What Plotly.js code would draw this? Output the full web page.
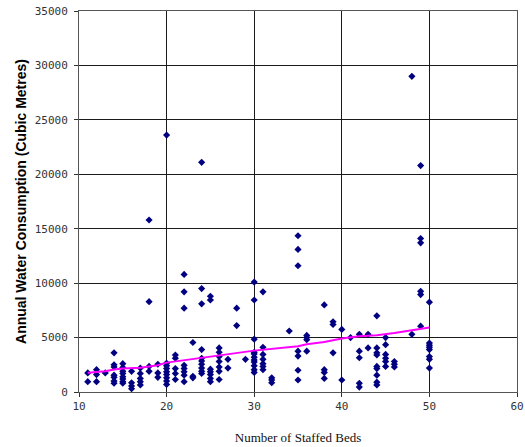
<!DOCTYPE html>
<html>
<head>
<meta charset="utf-8">
<script src="https://cdn.plot.ly/plotly-3.0.1.min.js"></script>
<style>
html,body{margin:0;padding:0;background:#fff;}
#chart{width:525px;height:447px;}
</style>
</head>
<body>
<div id="chart"></div>
<script>
// Number of staffed beds (x) and annual water consumption (y), grouped by bed count
const bedGroups = [11,12,13,14,15,16,17,18,19,20,21,22,23,24,25,26,27,28,29,30,31,32,34,35,36,38,39,40,41,42,43,44,45,46,48,49,50];
const waterByGroup = [
  [1750, 950],
  [2050, 1600, 950],
  [1750],
  [3600, 2500, 2300, 1550, 1350, 1000, 800],
  [2600, 2250, 1900, 1700, 1400, 1200, 950, 800],
  [1900, 850, 550, 300],
  [2200, 1700, 1250, 950, 650],
  [15800, 8300, 2350, 1900],
  [2550, 1750, 1350],
  [23600, 2650, 2400, 2150, 1850, 1600, 1300, 1000, 700],
  [3400, 3100, 2150, 1700, 1150],
  [10800, 9200, 7700, 2450, 2150, 1850, 1550, 950],
  [4550, 1450, 1300],
  [21100, 9500, 8100, 3900, 3100, 2850, 2550, 2200, 1900, 1700],
  [8800, 8450, 2100, 1850, 1600, 1250, 950],
  [4050, 3650, 3250, 2800, 2300, 1900, 1150],
  [3000, 2200],
  [7700, 6100],
  [3000],
  [10100, 8450, 4850, 3650, 3500, 3200, 2950, 2750, 2400, 2050, 1800],
  [9200, 4100, 3450, 3000, 2600, 2350, 2050],
  [1300, 1100, 850],
  [5600],
  [14350, 13100, 11600, 3750, 3300, 2000, 1100],
  [5200, 5000, 4800, 3750],
  [8000, 2050, 1800, 1250],
  [6450, 6200, 3600],
  [5750, 1100],
  [5000],
  [5300, 3750, 3150, 800, 450],
  [5300, 4050],
  [7000, 4050, 3600, 3400, 2350, 2150, 1550, 900, 650],
  [5000, 4350, 3450, 3100, 2800, 2350],
  [2800, 2550, 2300],
  [29000, 5300],
  [20800, 14100, 13700, 9250, 8950, 6050],
  [8250, 4500, 4300, 4100, 3900, 3250, 3000, 2200]
];

// Trend line (magenta)
const trendX = [11, 13, 14, 15, 17, 18, 19, 20, 22, 24, 26, 28, 30, 35, 36, 38, 40, 42, 44, 46, 48, 50];
const trendY = [1760, 1910, 2070, 2160, 2220, 2310, 2460, 2700, 2920, 3170, 3380, 3630, 3800, 4210, 4390, 4600, 4920, 5130, 5220, 5430, 5680, 5930];

const xTicks = [10, 20, 30, 40, 50, 60];
const yTicks = [0, 5000, 10000, 15000, 20000, 25000, 30000, 35000];

const px = [], py = [];
bedGroups.forEach((b, i) => waterByGroup[i].forEach(v => { px.push(b); py.push(v); }));

const data = [
  {
    x: px, y: py, type: 'scatter', mode: 'markers',
    marker: {symbol: 'diamond', size: 5.5, color: '#000080'},
    hoverinfo: 'x+y', showlegend: false
  },
  {
    x: trendX, y: trendY, type: 'scatter', mode: 'lines',
    line: {color: '#ff00ff', width: 2},
    showlegend: false
  }
];

const layout = {
  width: 525, height: 447,
  margin: {l: 79, r: 8, t: 11, b: 55},
  paper_bgcolor: '#fff', plot_bgcolor: '#fff',
  xaxis: {
    range: [10, 60], tickvals: xTicks, ticktext: xTicks.map(String),
    showgrid: true, gridcolor: '#1a1a1a', gridwidth: 1,
    showline: true, linecolor: '#555', linewidth: 1, mirror: true,
    ticks: 'outside', ticklen: 4, tickcolor: '#333',
    zeroline: false,
    tickfont: {family: 'DejaVu Sans Mono', size: 11, color: '#333'},
    title: {text: 'Number of Staffed Beds', font: {family: 'Liberation Serif', size: 13, color: '#111'}, standoff: 20}
  },
  yaxis: {
    range: [0, 35000], tickvals: yTicks, ticktext: yTicks.map(String),
    showgrid: true, gridcolor: '#1a1a1a', gridwidth: 1,
    showline: true, linecolor: '#555', linewidth: 1, mirror: true,
    ticks: 'outside', ticklen: 4, tickcolor: '#333',
    ticklabelstandoff: 4,
    zeroline: false,
    tickfont: {family: 'DejaVu Sans Mono', size: 11, color: '#333'},
    title: {text: 'Annual Water Consumption (Cubic Metres)', font: {family: 'Liberation Sans Narrow, Liberation Sans, Arial', size: 14, color: '#000', weight: 'bold'}, standoff: 4}
  }
};

Plotly.newPlot('chart', data, layout, {displayModeBar: false, staticPlot: true});
</script>
</body>
</html>
